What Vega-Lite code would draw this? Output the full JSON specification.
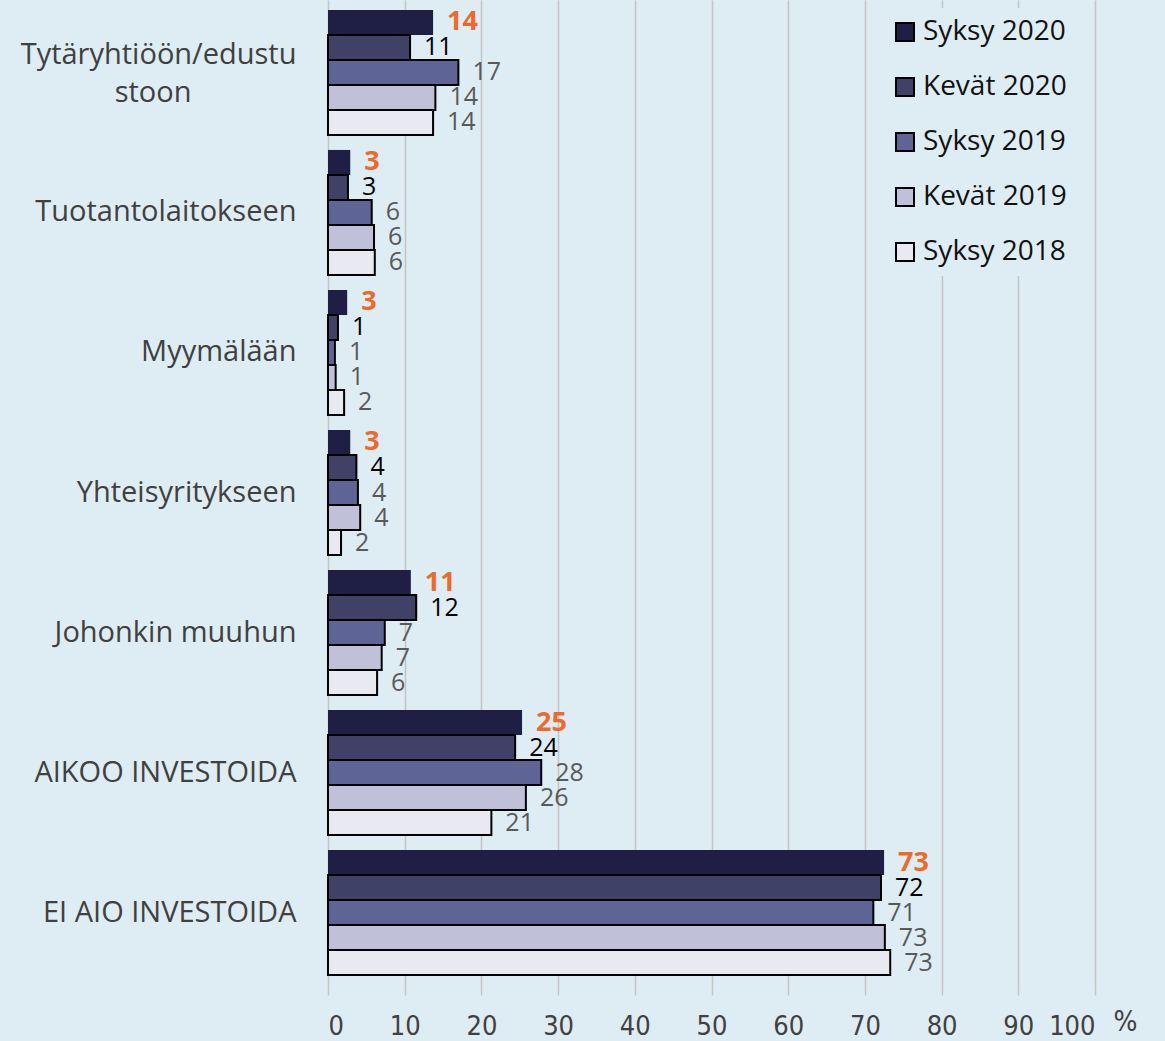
{
  "$schema": "https://vega.github.io/schema/vega-lite/v6.json",
  "width": 767,
  "height": 985,
  "autosize": "none",
  "padding": {"left": 328, "top": 0, "right": 70, "bottom": 56},
  "background": "#deedf4",
  "config": {"view": {"stroke": null}, "font": "Open Sans"},
  "data": {"values": [
    {"category": "Tytäryhtiöön/edustustoon", "series": "Syksy 2020", "value": 13.7, "label": "14"},
    {"category": "Tytäryhtiöön/edustustoon", "series": "Kevät 2020", "value": 10.7, "label": "11"},
    {"category": "Tytäryhtiöön/edustustoon", "series": "Syksy 2019", "value": 17.0, "label": "17"},
    {"category": "Tytäryhtiöön/edustustoon", "series": "Kevät 2019", "value": 14.0, "label": "14"},
    {"category": "Tytäryhtiöön/edustustoon", "series": "Syksy 2018", "value": 13.7, "label": "14"},
    {"category": "Tuotantolaitokseen", "series": "Syksy 2020", "value": 2.9, "label": "3"},
    {"category": "Tuotantolaitokseen", "series": "Kevät 2020", "value": 2.6, "label": "3"},
    {"category": "Tuotantolaitokseen", "series": "Syksy 2019", "value": 5.7, "label": "6"},
    {"category": "Tuotantolaitokseen", "series": "Kevät 2019", "value": 6.0, "label": "6"},
    {"category": "Tuotantolaitokseen", "series": "Syksy 2018", "value": 6.1, "label": "6"},
    {"category": "Myymälään", "series": "Syksy 2020", "value": 2.5, "label": "3"},
    {"category": "Myymälään", "series": "Kevät 2020", "value": 1.3, "label": "1"},
    {"category": "Myymälään", "series": "Syksy 2019", "value": 0.9, "label": "1"},
    {"category": "Myymälään", "series": "Kevät 2019", "value": 1.0, "label": "1"},
    {"category": "Myymälään", "series": "Syksy 2018", "value": 2.1, "label": "2"},
    {"category": "Yhteisyritykseen", "series": "Syksy 2020", "value": 2.9, "label": "3"},
    {"category": "Yhteisyritykseen", "series": "Kevät 2020", "value": 3.7, "label": "4"},
    {"category": "Yhteisyritykseen", "series": "Syksy 2019", "value": 3.9, "label": "4"},
    {"category": "Yhteisyritykseen", "series": "Kevät 2019", "value": 4.2, "label": "4"},
    {"category": "Yhteisyritykseen", "series": "Syksy 2018", "value": 1.7, "label": "2"},
    {"category": "Johonkin muuhun", "series": "Syksy 2020", "value": 10.8, "label": "11"},
    {"category": "Johonkin muuhun", "series": "Kevät 2020", "value": 11.5, "label": "12"},
    {"category": "Johonkin muuhun", "series": "Syksy 2019", "value": 7.4, "label": "7"},
    {"category": "Johonkin muuhun", "series": "Kevät 2019", "value": 7.0, "label": "7"},
    {"category": "Johonkin muuhun", "series": "Syksy 2018", "value": 6.4, "label": "6"},
    {"category": "AIKOO INVESTOIDA", "series": "Syksy 2020", "value": 25.3, "label": "25"},
    {"category": "AIKOO INVESTOIDA", "series": "Kevät 2020", "value": 24.4, "label": "24"},
    {"category": "AIKOO INVESTOIDA", "series": "Syksy 2019", "value": 27.8, "label": "28"},
    {"category": "AIKOO INVESTOIDA", "series": "Kevät 2019", "value": 25.8, "label": "26"},
    {"category": "AIKOO INVESTOIDA", "series": "Syksy 2018", "value": 21.3, "label": "21"},
    {"category": "EI AIO INVESTOIDA", "series": "Syksy 2020", "value": 72.5, "label": "73"},
    {"category": "EI AIO INVESTOIDA", "series": "Kevät 2020", "value": 72.1, "label": "72"},
    {"category": "EI AIO INVESTOIDA", "series": "Syksy 2019", "value": 71.1, "label": "71"},
    {"category": "EI AIO INVESTOIDA", "series": "Kevät 2019", "value": 72.6, "label": "73"},
    {"category": "EI AIO INVESTOIDA", "series": "Syksy 2018", "value": 73.3, "label": "73"}
  ]},
  "encoding": {
    "y": {
      "field": "category", "type": "nominal", "sort": null,
      "scale": {"paddingInner": 0.107, "paddingOuter": 0.071},
      "axis": {
        "title": null, "domain": false, "ticks": false, "grid": false,
        "labelFont": "Open Sans", "labelFontSize": 29, "labelColor": "#404040",
        "labelPadding": 32, "labelLineHeight": 38, "labelLimit": 400,
        "labelOffset": {"condition": {"test": "datum.value == 'Tytäryhtiöön/edustustoon'", "value": -17}, "value": 0},
        "labelExpr": "datum.label == 'Tytäryhtiöön/edustustoon' ? ['Tytäryhtiöön/edustu', 'stoon\u2800\u2800\u2800\u2800\u2800'] : datum.label"
      }
    },
    "yOffset": {
      "field": "series", "type": "nominal",
      "sort": ["Syksy 2020", "Kevät 2020", "Syksy 2019", "Kevät 2019", "Syksy 2018"],
      "scale": {"paddingInner": 0, "paddingOuter": 0}
    },
    "x": {
      "field": "value", "type": "quantitative",
      "scale": {"domain": [0, 100], "nice": false},
      "axis": {
        "values": [0, 10, 20, 30, 40, 50, 60, 70, 80, 90, 100],
        "domain": false, "grid": true, "gridColor": "#c4c4c4", "gridWidth": 1.5,
        "tickColor": "#c4c4c4", "tickSize": 10, "tickWidth": 1.5,
        "labelFont": "Liberation Sans Narrow, DejaVu Sans Condensed, sans-serif",
        "labelFontSize": 27, "labelColor": "#404040", "labelPadding": 18,
        "title": "%", "titleX": 797, "titleY": 37, "titleAlign": "center", "titleBaseline": "middle",
        "titleFont": "Liberation Sans Narrow, DejaVu Sans Condensed, sans-serif",
        "titleFontSize": 28, "titleFontWeight": "normal", "titleColor": "#404040"
      }
    }
  },
  "layer": [
    {
      "mark": {"type": "bar", "stroke": "black"},
      "encoding": {
        "color": {
          "field": "series", "type": "nominal",
          "scale": {
            "domain": ["Syksy 2020", "Kevät 2020", "Syksy 2019", "Kevät 2019", "Syksy 2018"],
            "range": ["#1f1f45", "#3f4166", "#5f6496", "#c0c0d8", "#e9e9f2"]
          },
          "legend": {
            "title": null, "orient": "none", "legendX": 553, "legendY": 8,
            "fillColor": "#deedf4", "padding": 10,
            "symbolType": "square", "symbolSize": 324, "symbolStrokeColor": "black", "symbolStrokeWidth": 2,
            "symbolOpacity": 1,
            "labelFont": "Open Sans", "labelFontSize": 28, "labelColor": "#111111",
            "labelOffset": 4, "rowPadding": 27, "labelLimit": 300
          }
        },
        "strokeWidth": {"condition": {"test": "datum.series === 'Syksy 2020'", "value": 0}, "value": 2}
      }
    },
    {
      "transform": [{"filter": "datum.series === 'Syksy 2020'"}],
      "mark": {"type": "text", "align": "left", "baseline": "middle", "dx": 14, "font": "Open Sans", "fontSize": 27, "fontWeight": "bold", "color": "#ec6a2c"},
      "encoding": {"text": {"field": "label"}}
    },
    {
      "transform": [{"filter": "datum.series !== 'Syksy 2020'"}],
      "mark": {"type": "text", "align": "left", "baseline": "middle", "dx": 14, "font": "Open Sans", "fontSize": 25},
      "encoding": {
        "text": {"field": "label"},
        "color": {"condition": {"test": "datum.series === 'Kevät 2020'", "value": "#000000"}, "value": "#595959"}
      }
    }
  ]
}
